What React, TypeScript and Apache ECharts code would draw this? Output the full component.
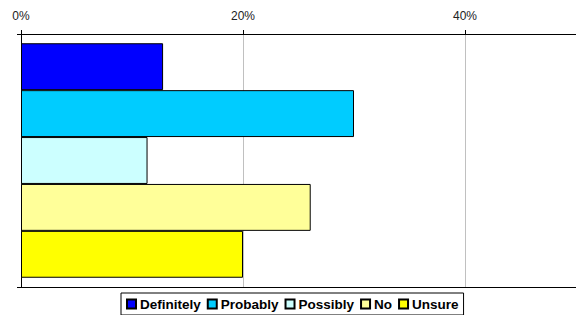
import React, { useEffect, useRef } from "react";
import * as echarts from "echarts";

const seriesNames = ["Definitely", "Probably", "Possibly", "No", "Unsure"];
const seriesValues = [12.8, 30.0, 11.4, 26.1, 20.0];
const seriesColors = ["#0000FF", "#00CCFF", "#CCFFFF", "#FFFF99", "#FFFF00"];
const categories = [""];
const tickMin = 0;
const tickMax = 50;
const tickInterval = 20;

export default function App() {
  const ref = useRef<HTMLDivElement>(null);
  useEffect(() => {
    if (!ref.current) return;
    const chart = echarts.init(ref.current, null, { renderer: "svg" });
    const font = "Arial, 'Liberation Sans', sans-serif";
    chart.setOption({
      animation: false,
      backgroundColor: "#ffffff",
      grid: { left: 21, right: 0, top: 34, bottom: 28, containLabel: false },
      xAxis: [
        {
          type: "value",
          position: "top",
          min: tickMin,
          max: tickMax,
          interval: tickInterval,
          axisLine: { show: true, lineStyle: { color: "#000", width: 1 } },
          axisTick: { show: true, length: 4, inside: false, lineStyle: { color: "#000" } },
          axisLabel: {
            formatter: (v: number) => (v % tickInterval === 0 ? v + "%" : ""),
            color: "#222",
            fontSize: 12,
            fontFamily: font,
            margin: 12,
            showMaxLabel: false,
          },
          splitLine: { show: true, showMaxLine: false, lineStyle: { color: "#c0c0c0", width: 1 } },
        },
        {
          type: "value",
          position: "bottom",
          min: tickMin,
          max: tickMax,
          axisLine: { show: true, lineStyle: { color: "#000", width: 1 } },
          axisTick: { show: false },
          axisLabel: { show: false },
          splitLine: { show: false },
        },
      ],
      yAxis: {
        type: "category",
        data: categories,
        axisLine: { show: true, lineStyle: { color: "#000", width: 1 } },
        axisTick: { show: true, length: 4, inside: false, lineStyle: { color: "#000" } },
        axisLabel: { show: false },
        splitLine: { show: false },
      },
      legend: {
        data: seriesNames,
        bottom: 0,
        left: 121,
        itemWidth: 9,
        itemHeight: 9,
        itemGap: 6,
        icon: "rect",
        borderColor: "#000",
        borderWidth: 1,
        padding: [4, 5, 4, 5],
        textStyle: { color: "#000", fontSize: 13.5, fontWeight: "bold", fontFamily: font, padding: [0, 0, 0, -1] },
      },
      series: seriesNames.map((name, i) => ({
        name,
        type: "bar",
        xAxisIndex: 0,
        data: [seriesValues[i]],
        barGap: "0%",
        barCategoryGap: "7.3%",
        itemStyle: { color: seriesColors[i], borderColor: "#000", borderWidth: 1 },
      })),
    });
    return () => chart.dispose();
  }, []);
  return (
    <div
      ref={ref}
      style={{ position: "fixed", left: 0, top: 0, width: 576, height: 315 }}
    />
  );
}
